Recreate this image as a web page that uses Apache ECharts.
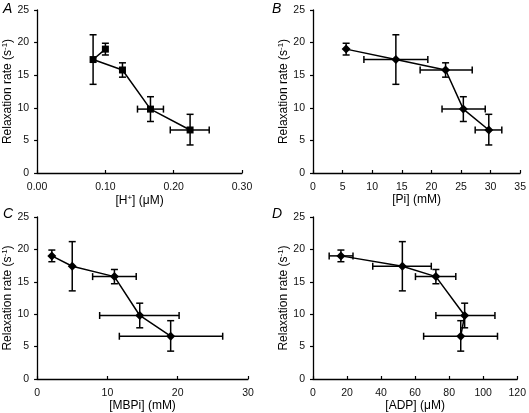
<!DOCTYPE html>
<html><head><meta charset="utf-8">
<script src="https://cdn.jsdelivr.net/npm/echarts@6/dist/echarts.min.js"></script>
<style>html,body{margin:0;padding:0;background:#fff}#c{width:529px;height:413px}</style>
</head><body><div id="c"></div>
<script>
// Shared relaxation rate values (s^-1)
const rateVals = [19.0, 17.4, 15.8, 9.8, 6.6];
const rateLo   = [18.1, 13.6, 14.7, 7.9, 4.3];
const rateHi   = [19.9, 21.2, 16.9, 11.7, 9.0];

// Panel A: [H+] (uM)
const hVals = [0.100, 0.082, 0.125, 0.166, 0.224];
const hLo   = [0.100, 0.082, 0.125, 0.147, 0.195];
const hHi   = [0.100, 0.082, 0.125, 0.185, 0.252];
// Panel B: [Pi] (mM)
const piVals = [5.6, 14.0, 22.4, 25.4, 29.7];
const piLo   = [5.6, 8.6, 18.1, 21.8, 27.4];
const piHi   = [5.6, 19.4, 26.9, 29.1, 31.9];
// Panel C: [MBPi] (mM)
const mbVals = [2.1, 5.0, 11.0, 14.6, 19.0];
const mbLo   = [2.1, 5.0, 7.9, 8.9, 11.7];
const mbHi   = [2.1, 5.0, 14.1, 20.2, 26.4];
// Panel D: [ADP] (uM)
const adpVals = [16.4, 52.5, 72.2, 89.1, 86.8];
const adpLo   = [9.5, 35.1, 60.2, 72.2, 65.0];
const adpHi   = [23.5, 69.5, 83.9, 106.9, 108.4];

const panelLetters = ['A', 'B', 'C', 'D'];
const xNames = ['[H{sup|+}] (μM)', '[Pi] (mM)', '[MBPi] (mM)', '[ADP] (μM)'];
const xMax = [0.30, 35, 30, 120];
const xInterval = [0.10, 5, 10, 20];
const yName = 'Relaxation rate (s{sup|-1})';

const panels = [
  {x: hVals, lo: hLo, hi: hHi, sym: 'rect', size: 7, dec: 2},
  {x: piVals, lo: piLo, hi: piHi, sym: 'diamond', size: 9, dec: 0},
  {x: mbVals, lo: mbLo, hi: mbHi, sym: 'diamond', size: 9, dec: 0},
  {x: adpVals, lo: adpLo, hi: adpHi, sym: 'diamond', size: 9, dec: 0}
];

const grids = [
  {left: 36, top: 10, width: 206, height: 163},
  {left: 313, top: 10, width: 210, height: 163},
  {left: 37, top: 217, width: 211, height: 162},
  {left: 313, top: 217, width: 208, height: 162}
];

const font = 'Liberation Sans, Arial, sans-serif';
const richSup = {sup: {fontSize: 8, fontFamily: font, verticalAlign: 'top', padding: [0, 0, 5, 0], color: '#000'}};
const axisLine = {lineStyle: {color: '#000', width: 1.3}};

const xAxes = [], yAxes = [], series = [];
panels.forEach((p, i) => {
  xAxes.push({
    type: 'value', gridIndex: i, min: 0, max: xMax[i], interval: xInterval[i],
    axisLine: {show: true, onZero: false, ...axisLine},
    axisTick: {show: true, inside: true, length: 3, lineStyle: {color: '#000', width: 1.2}},
    splitLine: {show: false},
    axisLabel: {color: '#111', fontSize: 10.5, fontFamily: font, margin: 9,
      formatter: v => v.toFixed(p.dec)},
    name: xNames[i], nameLocation: 'middle', nameGap: 21,
    nameTextStyle: {color: '#000', fontSize: 12, fontFamily: font, rich: richSup}
  });
  yAxes.push({
    type: 'value', gridIndex: i, min: 0, max: 25, interval: 5,
    axisLine: {show: true, ...axisLine},
    axisTick: {show: true, length: 3, lineStyle: {color: '#000', width: 1.2}},
    splitLine: {show: false},
    axisLabel: {color: '#111', fontSize: 10.5, fontFamily: font, margin: 8},
    name: yName, nameLocation: 'middle', nameGap: 22,
    nameTextStyle: {color: '#000', fontSize: 12, fontFamily: font, rich: richSup}
  });
  const pts = p.x.map((xv, k) => [xv, rateVals[k]]);
  series.push({
    type: 'line', xAxisIndex: i, yAxisIndex: i, data: pts,
    symbol: p.sym, symbolSize: p.size, showSymbol: true,
    lineStyle: {color: '#000', width: 1.5}, itemStyle: {color: '#000'},
    animation: false, z: 3
  });
  const errData = p.x.map((xv, k) => [xv, rateVals[k], p.lo[k], p.hi[k], rateLo[k], rateHi[k]]);
  series.push({
    type: 'custom', xAxisIndex: i, yAxisIndex: i, data: errData, animation: false, z: 2,
    renderItem: (params, api) => {
      const c = api.coord([api.value(0), api.value(1)]);
      const xl = api.coord([api.value(2), api.value(1)]);
      const xh = api.coord([api.value(3), api.value(1)]);
      const yl = api.coord([api.value(0), api.value(4)]);
      const yh = api.coord([api.value(0), api.value(5)]);
      const st = {stroke: '#000', lineWidth: 1.5};
      const cap = 3.5;
      const ch = [];
      ch.push({type: 'line', shape: {x1: c[0], y1: yl[1], x2: c[0], y2: yh[1]}, style: st});
      ch.push({type: 'line', shape: {x1: c[0] - cap, y1: yl[1], x2: c[0] + cap, y2: yl[1]}, style: st});
      ch.push({type: 'line', shape: {x1: c[0] - cap, y1: yh[1], x2: c[0] + cap, y2: yh[1]}, style: st});
      if (Math.abs(xh[0] - xl[0]) > 1) {
        ch.push({type: 'line', shape: {x1: xl[0], y1: c[1], x2: xh[0], y2: c[1]}, style: st});
        ch.push({type: 'line', shape: {x1: xl[0], y1: c[1] - cap, x2: xl[0], y2: c[1] + cap}, style: st});
        ch.push({type: 'line', shape: {x1: xh[0], y1: c[1] - cap, x2: xh[0], y2: c[1] + cap}, style: st});
      }
      return {type: 'group', children: ch};
    }
  });
});

const letterPos = [[3, 2], [272, 2], [3, 207], [272, 207]];
const graphic = panelLetters.map((t, i) => ({
  type: 'text', left: letterPos[i][0], top: letterPos[i][1],
  style: {text: t, fontSize: 14, fontStyle: 'italic', fontFamily: font, fill: '#000'}
}));

const chart = echarts.init(document.getElementById('c'), null, {renderer: 'canvas'});
chart.setOption({
  animation: false, backgroundColor: '#fff',
  grid: grids, xAxis: xAxes, yAxis: yAxes, series: series, graphic: graphic
});
</script></body></html>
